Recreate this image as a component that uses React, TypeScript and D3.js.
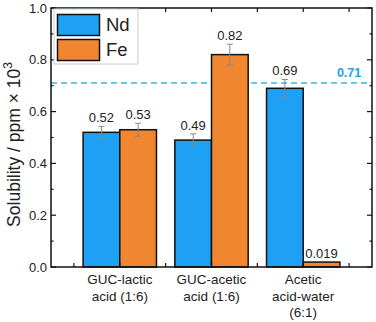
import React from 'react';
import * as d3 from 'd3';

const categories = [['GUC-lactic', 'acid (1:6)'], ['GUC-acetic', 'acid (1:6)'], ['Acetic', 'acid-water', '(6:1)']];
const ndValues = [0.52, 0.49, 0.69];
const feValues = [0.53, 0.82, 0.019];
const ndErrors = [0.023, 0.024, 0.034];
const feErrors = [0.025, 0.04, 0];
const ndLabels = ['0.52', '0.49', '0.69'];
const feLabels = ['0.53', '0.82', '0.019'];
const refValue = 0.71;
const yTicks = [0, 0.2, 0.4, 0.6, 0.8, 1.0];

const BLUE = '#1ea0f4';
const ORANGE = '#f0862f';

const App = () => {
  const W = 376, H = 322;
  const margin = { top: 8, right: 4, bottom: 55, left: 51 };
  const x = d3.scaleLinear().domain([0.25, 3.75]).range([margin.left, W - margin.right]);
  const y = d3.scaleLinear().domain([0, 1]).range([H - margin.bottom, margin.top]);
  const barW = x(0.4) - x(0);
  const font = 'Arial, "Liberation Sans", sans-serif';

  const xTicks = d3.range(0.5, 3.51, 0.5);
  const yMinor = d3.range(0.1, 1, 0.2);

  const series = [
    { name: 'Nd', values: ndValues, errs: ndErrors, labels: ndLabels, color: BLUE, off: -1 },
    { name: 'Fe', values: feValues, errs: feErrors, labels: feLabels, color: ORANGE, off: 0 },
  ];

  return (
    <svg width={W} height={H} style={{ position: 'absolute', left: 0, top: 0 }} fontFamily={font}>
      <rect width={W} height={H} fill="white" />
      {/* reference line */}
      <line x1={x(0.25)} x2={x(3.75)} y1={y(refValue)} y2={y(refValue)} stroke="#3bb4f0" strokeWidth={1.5} strokeDasharray="6,4" />
      <text x={x(3.5)} y={y(refValue) - 6} textAnchor="middle" fontSize={12.5} fontWeight="bold" fill="#1ea0f4">{refValue.toFixed(2)}</text>

      {/* bars */}
      {series.map((s) => s.values.map((v, i) => {
        const cx = i + 1;
        const x0 = x(cx) + s.off * barW;
        const top = y(v);
        const errTop = y(v + s.errs[i]);
        const errBot = y(v - s.errs[i]);
        const mid = x0 + barW / 2;
        return (
          <g key={s.name + i}>
            <rect x={x0} y={top} width={barW} height={y(0) - top} fill={s.color} stroke="#111" strokeWidth={1.5} />
            {s.errs[i] > 0 && (
              <g stroke="#888" strokeWidth={1}>
                <line x1={mid} x2={mid} y1={errTop} y2={errBot} />
                <line x1={mid - 3} x2={mid + 3} y1={errTop} y2={errTop} />
                <line x1={mid - 3} x2={mid + 3} y1={errBot} y2={errBot} />
              </g>
            )}
            <text x={mid} y={errTop - 4} textAnchor="middle" fontSize={13} fill="#222">{s.labels[i]}</text>
          </g>
        );
      }))}

      {/* frame */}
      <rect x={x(0.25)} y={y(1)} width={x(3.75) - x(0.25)} height={y(0) - y(1)} fill="none" stroke="#111" strokeWidth={1.5} />

      {/* x ticks, top and bottom */}
      {xTicks.map((t) => (
        <g key={'xt' + t} stroke="#111" strokeWidth={1.2}>
          <line x1={x(t)} x2={x(t)} y1={y(0)} y2={y(0) - 4} />
          <line x1={x(t)} x2={x(t)} y1={y(1)} y2={y(1) + 4} />
        </g>
      ))}
      {/* y ticks, left and right */}
      {yTicks.map((t) => (
        <g key={'yt' + t}>
          <line x1={x(0.25)} x2={x(0.25) + 5} y1={y(t)} y2={y(t)} stroke="#111" strokeWidth={1.2} />
          <line x1={x(3.75)} x2={x(3.75) - 5} y1={y(t)} y2={y(t)} stroke="#111" strokeWidth={1.2} />
          <text x={x(0.25) - 4} y={y(t)} dy="0.35em" textAnchor="end" fontSize={13} fill="#222">{t.toFixed(1)}</text>
        </g>
      ))}
      {yMinor.map((t) => (
        <g key={'ym' + t} stroke="#111" strokeWidth={1.2}>
          <line x1={x(0.25)} x2={x(0.25) + 2.5} y1={y(t)} y2={y(t)} />
          <line x1={x(3.75)} x2={x(3.75) - 2.5} y1={y(t)} y2={y(t)} />
        </g>
      ))}

      {/* category labels */}
      {categories.map((lines, i) => (
        <text key={'c' + i} x={x(i + 1)} y={y(0) + 17} textAnchor="middle" fontSize={13.5} fill="#222">
          {lines.map((l, j) => (
            <tspan key={j} x={x(i + 1)} dy={j === 0 ? 0 : 16.5}>{l}</tspan>
          ))}
        </text>
      ))}

      {/* y axis title */}
      <text transform={`translate(20,${(y(0) + y(1)) / 2 + 7}) rotate(-90)`} textAnchor="middle" fontSize={17.5} fill="#222">
        Solubility / ppm × 10<tspan dy={-8} fontSize={12}>3</tspan>
      </text>

      {/* legend */}
      <g>
        <rect x={54} y={9} width={84} height={55} fill="white" stroke="#ccc" strokeWidth={1} />
        {series.map((s, i) => (
          <g key={'lg' + s.name}>
            <rect x={57.5} y={14.5 + i * 25} width={42} height={21} fill={s.color} stroke="#111" strokeWidth={1.5} />
            <text x={106} y={25 + i * 25} dy="0.35em" fontSize={18.5} fill="#222">{s.name}</text>
          </g>
        ))}
      </g>
    </svg>
  );
};

export default App;
